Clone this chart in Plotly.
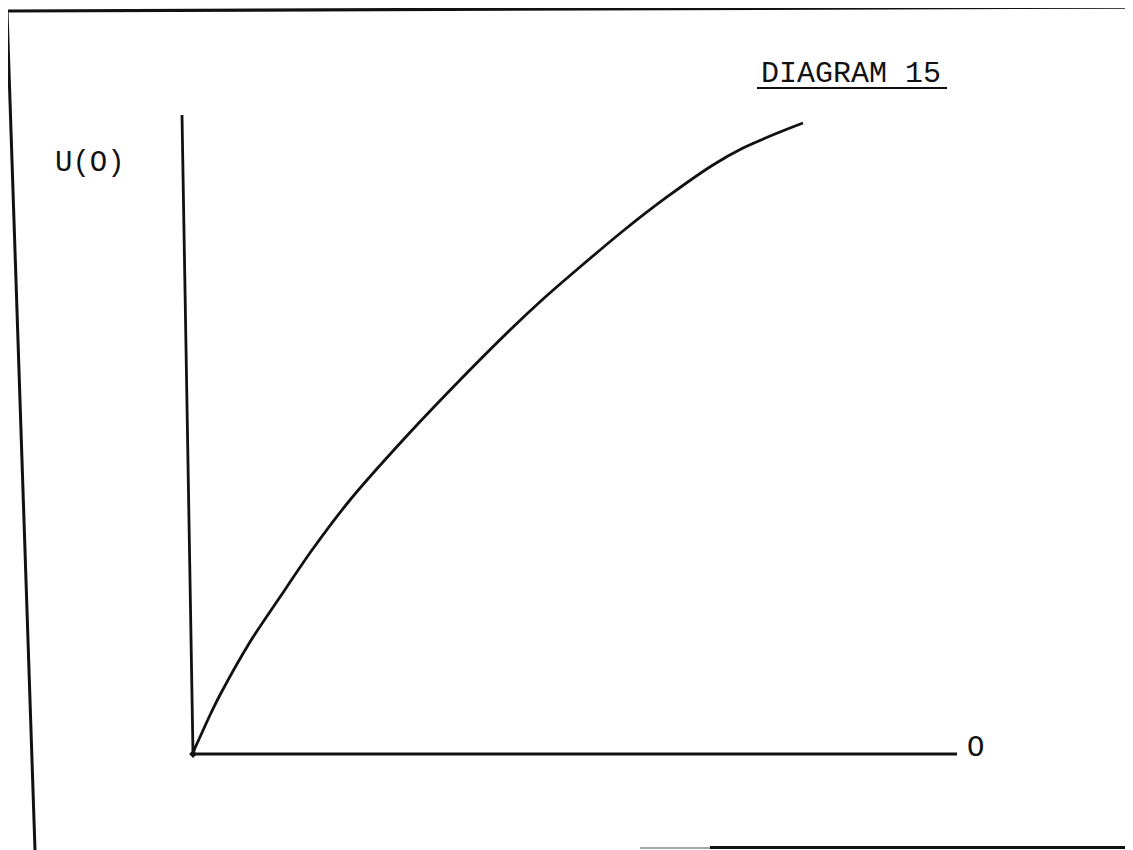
import plotly.graph_objects as go

# Curve data in chart units (O on x, U(O) on y; axes run 0..100)
o_values = [0.0, 0.26, 0.92, 2.23, 3.53, 7.46, 11.39, 15.58, 20.55, 27.49, 34.95,
            41.49, 45.68, 50.65, 56.28, 62.04, 68.06, 71.99, 76.83, 79.84]
u_values = [0.0, 0.94, 2.66, 6.10, 9.23, 17.53, 24.57, 31.92, 39.75, 49.14, 58.53,
            66.35, 71.05, 76.21, 81.85, 87.17, 92.18, 94.84, 97.34, 98.75]

O_MAX = 100
U_MAX = 100
title_text = "DIAGRAM 15"
y_label = "U(O)"
x_label = "O"

# the page body has an 8px margin, so the figure is sized to fit the window
OFF = 8
W, H = 1133 - OFF, 850 - OFF
FONT = "Liberation Mono, Courier New, monospace"
INK = "#111111"

fig = go.Figure()
fig.add_trace(go.Scatter(x=o_values, y=u_values, mode="lines",
                         line=dict(color=INK, width=2.8, shape="spline", smoothing=0.8),
                         hoverinfo="skip", showlegend=False))
# small ink blob at the origin
fig.add_trace(go.Scatter(x=o_values[:1], y=u_values[:1], mode="markers",
                         marker=dict(symbol="diamond", size=6, color=INK),
                         hoverinfo="skip", showlegend=False))

# axes of the diagram (data coordinates)
fig.add_shape(type="line", xref="x", yref="y", x0=0, y0=0, x1=O_MAX, y1=0,
              line=dict(color=INK, width=3))
fig.add_shape(type="line", xref="x", yref="y", x0=0, y0=0, x1=-1.44, y1=U_MAX,
              line=dict(color=INK, width=2.8))

# page frame of the scan (paper coordinates, given in window pixels)
def px(x):
    return (x - OFF) / W

def py(y):
    return 1 - (y - OFF) / H

fig.add_shape(type="line", xref="paper", yref="paper", x0=px(6), y0=py(11), x1=px(1133), y1=py(7),
              line=dict(color=INK, width=3.2))
fig.add_shape(type="line", xref="paper", yref="paper", x0=px(7), y0=py(11), x1=px(35), y1=py(850),
              line=dict(color=INK, width=3))
fig.add_shape(type="line", xref="paper", yref="paper", x0=px(640), y0=py(848), x1=px(710), y1=py(848),
              line=dict(color="#888888", width=1.5))
fig.add_shape(type="line", xref="paper", yref="paper", x0=px(710), y0=py(847.5), x1=px(1133), y1=py(847.5),
              line=dict(color=INK, width=3))

# title underline
fig.add_shape(type="line", xref="paper", yref="paper", x0=px(757), y0=py(88), x1=px(947), y1=py(88),
              line=dict(color=INK, width=1.8))

fig.add_annotation(text=title_text, xref="paper", yref="paper", x=px(851), y=py(74),
                   xanchor="center", yanchor="middle", showarrow=False,
                   font=dict(family=FONT, size=30, color=INK))
fig.add_annotation(text=y_label, xref="paper", yref="paper", x=px(90), y=py(163),
                   xanchor="center", yanchor="middle", showarrow=False,
                   font=dict(family=FONT, size=29, color=INK))
fig.add_annotation(text=x_label, xref="paper", yref="paper", x=px(975), y=py(748),
                   xanchor="center", yanchor="middle", showarrow=False,
                   font=dict(family=FONT, size=29, color=INK))

# map chart units onto the window: origin at (193,754) px, O=100 at 957 px, U=100 at 115 px
xs = (957 - 193) / O_MAX
ys = (754 - 115) / U_MAX
ox, oy = 193 - OFF, 754 - OFF
fig.update_xaxes(range=[-ox / xs, (W - ox) / xs], visible=False, fixedrange=True)
fig.update_yaxes(range=[-(H - oy) / ys, oy / ys], visible=False, fixedrange=True)

fig.update_layout(width=W, height=H, margin=dict(l=0, r=0, t=0, b=0),
                  paper_bgcolor="white", plot_bgcolor="white", showlegend=False)

fig.write_html("out.html")
